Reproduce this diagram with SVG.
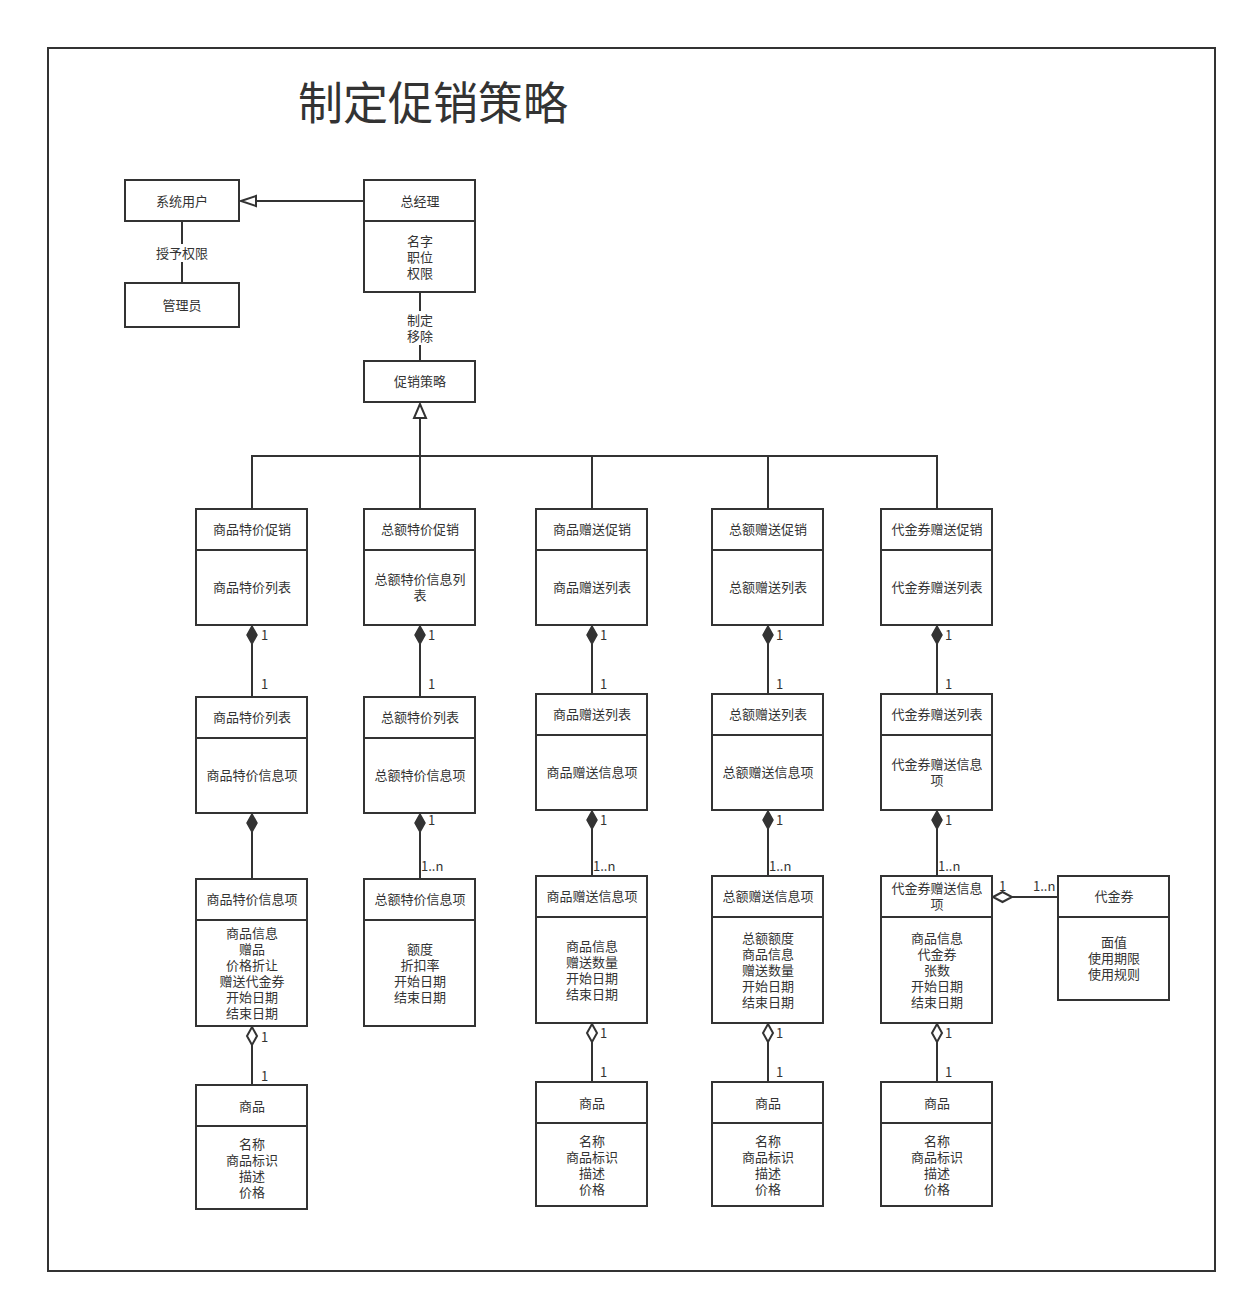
<svg xmlns="http://www.w3.org/2000/svg" width="1247" height="1303" viewBox="0 0 1247 1303">
<style>
.bx{fill:#fff;stroke:#333;stroke-width:2}
.ln{fill:none;stroke:#333;stroke-width:2}
.fd{fill:#333;stroke:#333;stroke-width:1.5}
.hd{fill:#fff;stroke:#333;stroke-width:2}
text{font-family:"Noto Sans CJK SC","Noto Sans",sans-serif;font-size:13px;fill:#333;dominant-baseline:central;transform:translateY(-1px)}
.c{text-anchor:middle}
.t{font-size:45px;dominant-baseline:auto}
</style>
<rect x="0" y="0" width="1247" height="1303" fill="#fff"/>
<rect x="48" y="48" width="1167" height="1223" class="ln"/>
<text class="t" x="298" y="121">制定促销策略</text>

<g id="connectors">
  <line x1="256" y1="201" x2="364" y2="201" class="ln"/>
  <polygon points="241,201 256,196 256,206" class="hd"/>
  <line x1="182" y1="221" x2="182" y2="283" class="ln"/>
  <rect x="154" y="244" width="56" height="18" fill="#fff"/>
  <text class="c" x="182" y="253">授予权限</text>
  <line x1="420" y1="292" x2="420" y2="361" class="ln"/>
  <rect x="404" y="311" width="32" height="34" fill="#fff"/>
  <text class="c" x="420" y="320">制定</text>
  <text class="c" x="420" y="336">移除</text>
  <line x1="420" y1="418" x2="420" y2="509" class="ln"/>
  <polygon points="420,404 414,418 426,418" class="hd"/>
  <polyline points="252,509 252,456 937,456 937,509" class="ln"/>
  <line x1="592" y1="456" x2="592" y2="509" class="ln"/>
  <line x1="768" y1="456" x2="768" y2="509" class="ln"/>

  <line x1="252" y1="644" x2="252" y2="697" class="ln"/>
  <polygon points="252,626 257,635 252,644 247,635" class="fd"/>
  <text x="261" y="635">1</text><text x="261" y="684">1</text>
  <line x1="420" y1="644" x2="420" y2="697" class="ln"/>
  <polygon points="420,626 425,635 420,644 415,635" class="fd"/>
  <text x="428" y="635">1</text><text x="428" y="684">1</text>
  <line x1="592" y1="644" x2="592" y2="694" class="ln"/>
  <polygon points="592,626 597,635 592,644 587,635" class="fd"/>
  <text x="600" y="635">1</text><text x="600" y="684">1</text>
  <line x1="768" y1="644" x2="768" y2="694" class="ln"/>
  <polygon points="768,626 773,635 768,644 763,635" class="fd"/>
  <text x="776" y="635">1</text><text x="776" y="684">1</text>
  <line x1="937" y1="644" x2="937" y2="694" class="ln"/>
  <polygon points="937,626 942,635 937,644 932,635" class="fd"/>
  <text x="945" y="635">1</text><text x="945" y="684">1</text>

  <line x1="252" y1="832" x2="252" y2="879" class="ln"/>
  <polygon points="252,814 257,823 252,832 247,823" class="fd"/>
  <line x1="420" y1="832" x2="420" y2="879" class="ln"/>
  <polygon points="420,814 425,823 420,832 415,823" class="fd"/>
  <text x="428" y="820">1</text><text x="421" y="866">1..n</text>
  <line x1="592" y1="829" x2="592" y2="876" class="ln"/>
  <polygon points="592,811 597,820 592,829 587,820" class="fd"/>
  <text x="600" y="820">1</text><text x="593" y="866">1..n</text>
  <line x1="768" y1="829" x2="768" y2="876" class="ln"/>
  <polygon points="768,811 773,820 768,829 763,820" class="fd"/>
  <text x="776" y="820">1</text><text x="769" y="866">1..n</text>
  <line x1="937" y1="829" x2="937" y2="876" class="ln"/>
  <polygon points="937,811 942,820 937,829 932,820" class="fd"/>
  <text x="945" y="820">1</text><text x="938" y="866">1..n</text>

  <line x1="252" y1="1045" x2="252" y2="1085" class="ln"/>
  <polygon points="252,1027 257,1036 252,1045 247,1036" class="hd"/>
  <text x="261" y="1037">1</text><text x="261" y="1076">1</text>
  <line x1="592" y1="1042" x2="592" y2="1082" class="ln"/>
  <polygon points="592,1024 597,1033 592,1042 587,1033" class="hd"/>
  <text x="600" y="1033">1</text><text x="600" y="1072">1</text>
  <line x1="768" y1="1042" x2="768" y2="1082" class="ln"/>
  <polygon points="768,1024 773,1033 768,1042 763,1033" class="hd"/>
  <text x="776" y="1033">1</text><text x="776" y="1072">1</text>
  <line x1="937" y1="1042" x2="937" y2="1082" class="ln"/>
  <polygon points="937,1024 942,1033 937,1042 932,1033" class="hd"/>
  <text x="945" y="1033">1</text><text x="945" y="1072">1</text>

  <line x1="1012" y1="897" x2="1058" y2="897" class="ln"/>
  <polygon points="993,897 1002.5,892 1012,897 1002.5,902" class="hd"/>
  <text x="999" y="886">1</text><text x="1033" y="886">1..n</text>
</g>

<g id="n-sysuser"><rect x="125" y="180" width="114" height="41" class="bx"/><text class="c" x="182" y="201">系统用户</text></g>
<g id="n-admin"><rect x="125" y="283" width="114" height="44" class="bx"/><text class="c" x="182" y="305">管理员</text></g>
<g id="n-gm"><rect x="364" y="180" width="111" height="112" class="bx"/><line x1="364" y1="221" x2="475" y2="221" class="ln"/>
<text class="c" x="420" y="201">总经理</text><text class="c" x="420" y="241">名字</text><text class="c" x="420" y="257">职位</text><text class="c" x="420" y="273">权限</text></g>
<g id="n-strategy"><rect x="364" y="361" width="111" height="41" class="bx"/><text class="c" x="420" y="381">促销策略</text></g>

<g id="n-p1"><rect x="196" y="509" width="111" height="116" class="bx"/><line x1="196" y1="550" x2="307" y2="550" class="ln"/>
<text class="c" x="252" y="529">商品特价促销</text><text class="c" x="252" y="587">商品特价列表</text></g>
<g id="n-p2"><rect x="364" y="509" width="111" height="116" class="bx"/><line x1="364" y1="550" x2="475" y2="550" class="ln"/>
<text class="c" x="420" y="529">总额特价促销</text><text class="c" x="420" y="579">总额特价信息列</text><text class="c" x="420" y="595">表</text></g>
<g id="n-p3"><rect x="536" y="509" width="111" height="116" class="bx"/><line x1="536" y1="550" x2="647" y2="550" class="ln"/>
<text class="c" x="592" y="529">商品赠送促销</text><text class="c" x="592" y="587">商品赠送列表</text></g>
<g id="n-p4"><rect x="712" y="509" width="111" height="116" class="bx"/><line x1="712" y1="550" x2="823" y2="550" class="ln"/>
<text class="c" x="768" y="529">总额赠送促销</text><text class="c" x="768" y="587">总额赠送列表</text></g>
<g id="n-p5"><rect x="881" y="509" width="111" height="116" class="bx"/><line x1="881" y1="550" x2="992" y2="550" class="ln"/>
<text class="c" x="937" y="529">代金券赠送促销</text><text class="c" x="937" y="587">代金券赠送列表</text></g>

<g id="n-l1"><rect x="196" y="697" width="111" height="116" class="bx"/><line x1="196" y1="738" x2="307" y2="738" class="ln"/>
<text class="c" x="252" y="717">商品特价列表</text><text class="c" x="252" y="775">商品特价信息项</text></g>
<g id="n-l2"><rect x="364" y="697" width="111" height="116" class="bx"/><line x1="364" y1="738" x2="475" y2="738" class="ln"/>
<text class="c" x="420" y="717">总额特价列表</text><text class="c" x="420" y="775">总额特价信息项</text></g>
<g id="n-l3"><rect x="536" y="694" width="111" height="116" class="bx"/><line x1="536" y1="735" x2="647" y2="735" class="ln"/>
<text class="c" x="592" y="714">商品赠送列表</text><text class="c" x="592" y="772">商品赠送信息项</text></g>
<g id="n-l4"><rect x="712" y="694" width="111" height="116" class="bx"/><line x1="712" y1="735" x2="823" y2="735" class="ln"/>
<text class="c" x="768" y="714">总额赠送列表</text><text class="c" x="768" y="772">总额赠送信息项</text></g>
<g id="n-l5"><rect x="881" y="694" width="111" height="116" class="bx"/><line x1="881" y1="735" x2="992" y2="735" class="ln"/>
<text class="c" x="937" y="714">代金券赠送列表</text><text class="c" x="937" y="764">代金券赠送信息</text><text class="c" x="937" y="780">项</text></g>

<g id="n-i1"><rect x="196" y="879" width="111" height="147" class="bx"/><line x1="196" y1="920" x2="307" y2="920" class="ln"/>
<text class="c" x="252" y="899">商品特价信息项</text>
<text class="c" x="252" y="933">商品信息</text><text class="c" x="252" y="949">赠品</text><text class="c" x="252" y="965">价格折让</text><text class="c" x="252" y="981">赠送代金券</text><text class="c" x="252" y="997">开始日期</text><text class="c" x="252" y="1013">结束日期</text></g>
<g id="n-i2"><rect x="364" y="879" width="111" height="147" class="bx"/><line x1="364" y1="920" x2="475" y2="920" class="ln"/>
<text class="c" x="420" y="899">总额特价信息项</text>
<text class="c" x="420" y="949">额度</text><text class="c" x="420" y="965">折扣率</text><text class="c" x="420" y="981">开始日期</text><text class="c" x="420" y="997">结束日期</text></g>
<g id="n-i3"><rect x="536" y="876" width="111" height="147" class="bx"/><line x1="536" y1="917" x2="647" y2="917" class="ln"/>
<text class="c" x="592" y="896">商品赠送信息项</text>
<text class="c" x="592" y="946">商品信息</text><text class="c" x="592" y="962">赠送数量</text><text class="c" x="592" y="978">开始日期</text><text class="c" x="592" y="994">结束日期</text></g>
<g id="n-i4"><rect x="712" y="876" width="111" height="147" class="bx"/><line x1="712" y1="917" x2="823" y2="917" class="ln"/>
<text class="c" x="768" y="896">总额赠送信息项</text>
<text class="c" x="768" y="938">总额额度</text><text class="c" x="768" y="954">商品信息</text><text class="c" x="768" y="970">赠送数量</text><text class="c" x="768" y="986">开始日期</text><text class="c" x="768" y="1002">结束日期</text></g>
<g id="n-i5"><rect x="881" y="876" width="111" height="147" class="bx"/><line x1="881" y1="917" x2="992" y2="917" class="ln"/>
<text class="c" x="937" y="888">代金券赠送信息</text><text class="c" x="937" y="904">项</text>
<text class="c" x="937" y="938">商品信息</text><text class="c" x="937" y="954">代金券</text><text class="c" x="937" y="970">张数</text><text class="c" x="937" y="986">开始日期</text><text class="c" x="937" y="1002">结束日期</text></g>
<g id="n-voucher"><rect x="1058" y="876" width="111" height="124" class="bx"/><line x1="1058" y1="917" x2="1169" y2="917" class="ln"/>
<text class="c" x="1114" y="896">代金券</text>
<text class="c" x="1114" y="942">面值</text><text class="c" x="1114" y="958">使用期限</text><text class="c" x="1114" y="974">使用规则</text></g>

<g id="n-g1"><rect x="196" y="1085" width="111" height="124" class="bx"/><line x1="196" y1="1126" x2="307" y2="1126" class="ln"/>
<text class="c" x="252" y="1106">商品</text><text class="c" x="252" y="1144">名称</text><text class="c" x="252" y="1160">商品标识</text><text class="c" x="252" y="1176">描述</text><text class="c" x="252" y="1192">价格</text></g>
<g id="n-g3"><rect x="536" y="1082" width="111" height="124" class="bx"/><line x1="536" y1="1123" x2="647" y2="1123" class="ln"/>
<text class="c" x="592" y="1103">商品</text><text class="c" x="592" y="1141">名称</text><text class="c" x="592" y="1157">商品标识</text><text class="c" x="592" y="1173">描述</text><text class="c" x="592" y="1189">价格</text></g>
<g id="n-g4"><rect x="712" y="1082" width="111" height="124" class="bx"/><line x1="712" y1="1123" x2="823" y2="1123" class="ln"/>
<text class="c" x="768" y="1103">商品</text><text class="c" x="768" y="1141">名称</text><text class="c" x="768" y="1157">商品标识</text><text class="c" x="768" y="1173">描述</text><text class="c" x="768" y="1189">价格</text></g>
<g id="n-g5"><rect x="881" y="1082" width="111" height="124" class="bx"/><line x1="881" y1="1123" x2="992" y2="1123" class="ln"/>
<text class="c" x="937" y="1103">商品</text><text class="c" x="937" y="1141">名称</text><text class="c" x="937" y="1157">商品标识</text><text class="c" x="937" y="1173">描述</text><text class="c" x="937" y="1189">价格</text></g>
</svg>
